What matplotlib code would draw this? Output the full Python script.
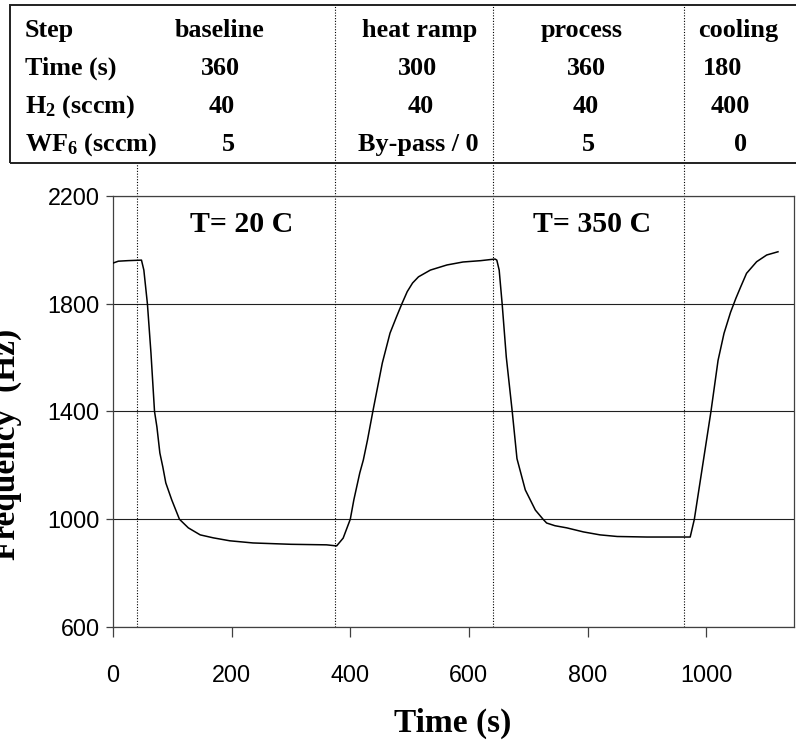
import matplotlib
matplotlib.use('Agg')
import matplotlib.pyplot as plt
from matplotlib.patches import Rectangle

# Frequency trace (time in s, frequency in Hz)
time_s = [0, 9, 25, 48, 52, 58, 64, 70, 74, 79, 84, 89, 99, 112, 127, 147, 169,
          197, 236, 300, 360, 377, 388, 400, 406, 416, 422, 429, 438, 454, 467,
          478, 487, 496, 505, 515, 535, 563, 590, 620, 644, 647, 651, 656, 663,
          673, 681, 695, 712, 725, 731, 745, 765, 793, 821, 850, 900, 973, 980,
          1008, 1020, 1030, 1041, 1050, 1058, 1068, 1085, 1102, 1121]
freq_hz = [1951, 1958, 1960, 1962, 1925, 1800, 1617, 1400, 1343, 1246, 1194,
           1135, 1072, 1000, 968, 942, 931, 920, 912, 907, 905, 901, 930, 1000,
           1072, 1172, 1220, 1294, 1400, 1580, 1691, 1752, 1800, 1845, 1877,
           1900, 1925, 1944, 1955, 1960, 1966, 1962, 1925, 1800, 1602, 1400,
           1225, 1109, 1034, 1000, 986, 976, 968, 953, 942, 936, 934, 934,
           1000, 1400, 1590, 1690, 1768, 1820, 1862, 1913, 1956, 1981, 1993]

# step boundaries (s)
step_bounds = [40, 374, 641, 963]

# table content
row_labels = ['Step', 'Time (s)', 'H$_2$ (sccm)', 'WF$_6$ (sccm)']
steps = ['baseline', 'heat ramp', 'process', 'cooling']
step_time = ['360', '300', '360', '180']
h2_sccm = ['40', '40', '40', '400']
wf6_sccm = ['5', 'By-pass / 0', '5', '0']

temp_labels = ['T= 20 C', 'T= 350 C']
temp_x = [217, 808]

x_ticks = [0, 200, 400, 600, 800, 1000]
y_ticks = [600, 1000, 1400, 1800, 2200]

W, H = 796, 741


def fx(x):
    return x / W


def fy(y):
    return 1 - y / H


plt.rcParams['font.family'] = 'Liberation Sans'
plt.rcParams['mathtext.fontset'] = 'custom'
plt.rcParams['mathtext.rm'] = 'Liberation Serif:bold'
plt.rcParams['mathtext.it'] = 'Liberation Serif:bold'
plt.rcParams['mathtext.bf'] = 'Liberation Serif:bold'

fig = plt.figure(figsize=(W / 100, H / 100), dpi=100)
ax = fig.add_axes([fx(113), fy(627), (794 - 113) / W, (627 - 196) / H])

ax.plot(time_s, freq_hz, color='black', lw=1.1, zorder=3)

ax.set_xlim(0, 1148)
ax.set_ylim(600, 2200)
ax.set_xticks(x_ticks)
ax.set_yticks(y_ticks)
ax.yaxis.grid(True, color='#202020', lw=0.8)
for s in ax.spines.values():
    s.set_color('#404040')
    s.set_linewidth(0.9)
ax.tick_params(axis='x', direction='out', length=7.5, width=0.9, pad=19,
               labelsize=16.8, color='#404040')
ax.tick_params(axis='y', direction='out', length=5, width=0.9, pad=4.5,
               labelsize=16.8, color='#404040')

# dotted step boundaries, running up through the table
trans = ax.get_xaxis_transform()
for i, b in enumerate(step_bounds):
    top = (627 - 163) / 431 if i == 0 else (627 - 5) / 431
    ax.plot([b, b], [0, top], transform=trans, color='black', lw=0.8,
            ls=(0, (1, 1.5)), clip_on=False, zorder=2)

serif = dict(family='Liberation Serif', weight='bold')
for lab, x in zip(temp_labels, temp_x):
    ax.text(x, 2068, lab, ha='center', va='baseline', fontsize=21.5, **serif)

# table box
fig.add_artist(Rectangle((fx(10), fy(163)), fx(805) - fx(10), (163 - 5) / H,
                         transform=fig.transFigure, fill=False, lw=1.4,
                         ec='#202020'))

row_y = [37, 75, 113, 151]
head_x = [220, 420, 582, 738]
val_x = [[221, 418, 586, 723],
         [222, 421, 586, 730],
         [228, 418, 588, 741]]
for lab, y in zip(row_labels, row_y):
    fig.text(fx(25), fy(y), lab, ha='left', va='baseline', fontsize=18.8, **serif)
for name, x in zip(steps, head_x):
    fig.text(fx(x), fy(row_y[0]), name, ha='center', va='baseline', fontsize=18.8, **serif)
for r, vals in enumerate([step_time, h2_sccm, wf6_sccm]):
    for v, x in zip(vals, val_x[r]):
        fig.text(fx(x), fy(row_y[r + 1]), v, ha='center', va='baseline',
                 fontsize=18.8, **serif)

fig.text(fx(453), fy(732), 'Time (s)', ha='center', va='baseline', fontsize=24, **serif)
# y label is partly cut by the left edge, as in the original
fig.text(fx(22), fy(444), 'Frequency  (Hz)', ha='right', va='center',
         rotation=90, fontsize=24, **serif)

fig.savefig('out.png', dpi=100)
